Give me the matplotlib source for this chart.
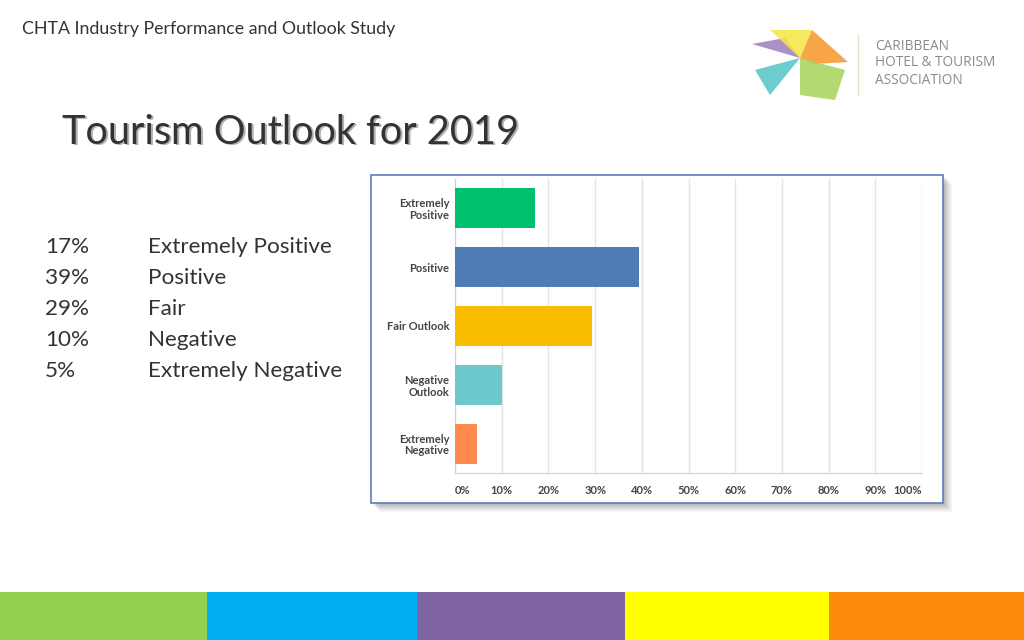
import matplotlib
matplotlib.use('Agg')
import matplotlib.pyplot as plt
from matplotlib.patches import Rectangle, Polygon

# chart data
categories = ['Extremely\nPositive', 'Positive', 'Fair Outlook', 'Negative\nOutlook', 'Extremely\nNegative']
shares = [17.2, 39.3, 29.3, 10.0, 4.8]
bar_colors = ['#00bf6f', '#507cb6', '#f9be00', '#6bc8cd', '#ff8b4f']
xticks = [0, 10, 20, 30, 40, 50, 60, 70, 80, 90, 100]

# text list on the left
list_pcts = ['17%', '39%', '29%', '10%', '5%']
list_names = ['Extremely Positive', 'Positive', 'Fair', 'Negative', 'Extremely Negative']

band_colors = ['#92d050', '#00b0f0', '#8064a2', '#ffff00', '#fd8b09']
band_edges = [0, 207, 417, 625, 829, 1024]

W, H = 1024, 640
fig = plt.figure(figsize=(W / 100, H / 100), dpi=100)
fig.patch.set_facecolor('white')

def fx(px):
    return px / W

def fy(py):
    return 1 - py / H

# background layer in pixel coords
bg = fig.add_axes([0, 0, 1, 1])
bg.set_xlim(0, W)
bg.set_ylim(H, 0)
bg.axis('off')

# coloured bands at the bottom
for i, c in enumerate(band_colors):
    bg.add_patch(Rectangle((band_edges[i], 592), band_edges[i + 1] - band_edges[i], 48,
                           facecolor=c, edgecolor='none'))

# chart frame with soft shadow
for k, a in zip([9, 7, 5, 3], [0.10, 0.15, 0.2, 0.25]):
    bg.add_patch(Rectangle((371 + k, 175 + k), 572, 328, facecolor='#888888',
                           edgecolor='none', alpha=a))
bg.add_patch(Rectangle((371, 175), 572, 328, facecolor='white',
                       edgecolor='#5a7dbf', linewidth=1.2))

# logo
petals = [
    ([(800, 58), (752, 44), (785, 38)], '#9b7fc0'),
    ([(800, 58), (770, 30), (812, 30)], '#f5e642'),
    ([(800, 58), (812, 30), (848, 62), (815, 64)], '#f7962a'),
    ([(800, 58), (845, 70), (835, 100), (800, 95)], '#a6d35a'),
    ([(800, 58), (770, 95), (755, 70)], '#53c4c4'),
]
for pts, c in petals:
    bg.add_patch(Polygon(pts, closed=True, facecolor=c, edgecolor='none', alpha=0.85))
bg.plot([858, 858], [35, 95], color='#d8e4c8', lw=1)
for i, line in enumerate(['CARIBBEAN', 'HOTEL & TOURISM', 'ASSOCIATION']):
    bg.text(875, 46 + i * 17, line, fontsize=9.8, color='#8a8a8a', family='Open Sans',
            va='center', ha='left')

# header and title
bg.text(22, 29, 'CHTA Industry Performance and Outlook Study', fontsize=12.8,
        color='#333333', family='Lato', va='center', ha='left')
bg.text(63.5, 133.5, 'Tourism Outlook for 2019', fontsize=28.5, color='#b0b0b0',
        family='Lato', va='center', ha='left')
bg.text(62, 132, 'Tourism Outlook for 2019', fontsize=28.5, color='#333333',
        family='Lato', va='center', ha='left')

# left list
for i, (p, n) in enumerate(zip(list_pcts, list_names)):
    y = 247 + i * 31
    bg.text(45, y, p, fontsize=16.2, color='#333333', family='Lato', va='center', ha='left')
    bg.text(148, y, n, fontsize=16.2, color='#333333', family='Lato', va='center', ha='left')

# bar chart
ax = fig.add_axes([fx(455), fy(473), fx(922) - fx(455), fy(179) - fy(473)])
ax.set_facecolor('none')
ypos = list(range(len(categories)))
ax.barh(ypos, shares, height=0.68, color=bar_colors, zorder=3)
ax.set_xlim(0, 100)
ax.set_ylim(4.5, -0.5)
ax.set_xticks(xticks)
ax.set_xticklabels([f'{t}%' for t in xticks], fontsize=8, fontweight='bold', color='#444444',
                   family='Lato')
xt = ax.get_xticklabels()
xt[0].set_ha('left')
xt[-1].set_ha('right')
ax.set_yticks(ypos)
ax.set_yticklabels(categories, fontsize=8, fontweight='bold', color='#444444', family='Lato',
                   linespacing=1.1)
ax.tick_params(length=0, pad=9)
ax.tick_params(axis='y', pad=4)
ax.grid(axis='x', color='#e4e4e4', linewidth=1, zorder=0)
for s in ['top', 'right']:
    ax.spines[s].set_visible(False)
ax.spines['left'].set_color('#d0d0d0')
ax.spines['bottom'].set_color('#d0d0d0')

fig.savefig('out.png', dpi=100)
